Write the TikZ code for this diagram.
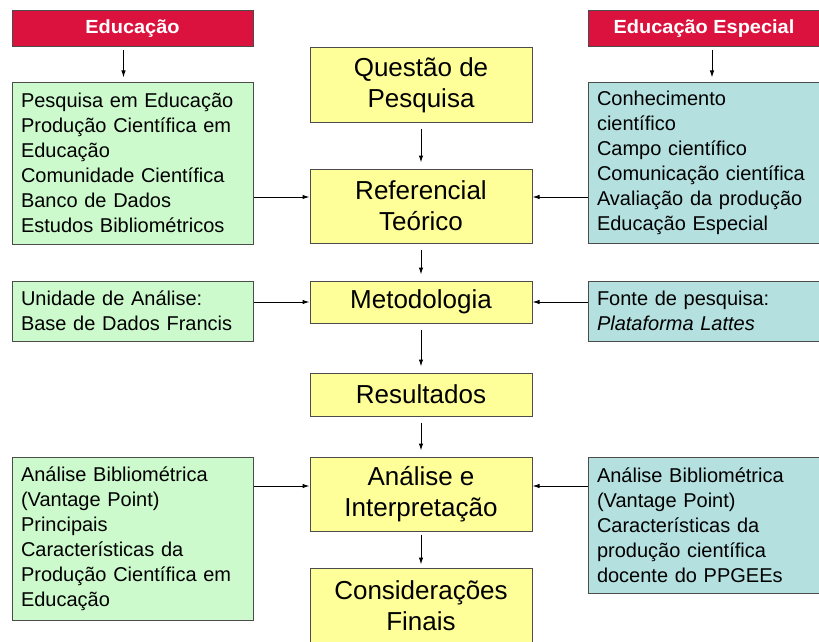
\documentclass[tikz,border=0pt]{standalone}
\usepackage{fontspec}
\setmainfont{Liberation Sans}
\newfontfamily\headfont{Liberation Sans}[FakeStretch=1.05]
\usepackage{tikz}
\usetikzlibrary{arrows.meta,positioning}

\definecolor{headred}{RGB}{220,18,62}
\definecolor{edugreen}{RGB}{204,250,204}
\definecolor{espblue}{RGB}{180,224,224}
\definecolor{coreyellow}{RGB}{255,255,153}

\begin{document}
\begin{tikzpicture}[
    x=1pt, y=-1pt,
    >={Latex[length=7pt,width=4.5pt]},
    line width=1pt,
    head/.style={draw=black!70, fill=headred, text=white, minimum width=#1, minimum height=36pt, inner sep=0pt, font=\headfont\bfseries\fontsize{19pt}{22pt}\selectfont},
    core/.style={draw=black!70, fill=coreyellow, minimum width=222pt, minimum height=#1, inner sep=0pt, align=center, font=\fontsize{26pt}{31pt}\selectfont},
    edu/.style={draw=black!70, fill=edugreen, minimum height=#1, inner xsep=9pt, inner ysep=0pt, text width=223pt, align=left, font=\fontsize{20pt}{25pt}\selectfont},
    esp/.style={draw=black!70, fill=espblue, minimum height=#1, inner xsep=9pt, inner ysep=0pt, text width=214pt, align=left, font=\fontsize{20pt}{25pt}\selectfont},
    flow/.style={->, shorten <=6pt, shorten >=6pt}
]
\useasboundingbox (0,0) rectangle (819,642);

% top row
\node[head=241pt] (educ) at (132.5,29) {Educação};
\node[head=232pt] (educesp) at (704,29) {Educação Especial};

\node[core=74pt] (questao) at (421,85) {Questão de\\Pesquisa};

% side boxes
\node[edu=162pt] (educbox) at (132.5,163) {Pesquisa em Educação\\Produção Científica em\\Educação\\Comunidade Científica\\Banco de Dados\\Estudos Bibliométricos};
\node[esp=161pt] (espbox) at (704,162.5) {Conhecimento\\científico\\Campo científico\\Comunicação científica\\Avaliação da produção\\Educação Especial};

\node[edu=60pt] (unid) at (132.5,311) {Unidade de Análise:\\Base de Dados Francis};
\node[esp=60pt] (fonte) at (704,311) {Fonte de pesquisa:\\\textit{Plataforma Lattes}};

\node[edu=163pt] (bibedu) at (132.5,538.5) {Análise Bibliométrica\\(Vantage Point)\\Principais\\Características da\\Produção Científica em\\Educação};
\node[esp=136pt] (bibesp) at (704,525) {Análise Bibliométrica\\(Vantage Point)\\Características da\\produção científica\\docente do PPGEEs};

% centre column
\node[core=74pt] (ref) at (421,206) {Referencial\\Teórico};
\node[core=42pt] (metod) at (421,302) {Metodologia};
\node[core=43pt] (result) at (421,394.5) {Resultados};
\node[core=74pt] (analise) at (421,494) {Análise e\\Interpretação};
\node[core=76pt] (consid) at (421,606) {Considerações\\Finais};

% arrows
\draw[->, shorten <=3pt, shorten >=4pt] ([xshift=-9pt]educ.south) -- ([xshift=-9pt]educbox.north);
\draw[->, shorten <=3pt, shorten >=4pt] ([xshift=8pt]educesp.south) -- ([xshift=8pt]espbox.north);

\draw[flow] (questao) -- (ref);
\draw[flow] (ref) -- (metod);
\draw[flow] (metod) -- (result);
\draw[flow] (result) -- (analise);
\draw[flow, shorten <=3pt, shorten >=3pt] (analise) -- (consid);

\coordinate (refL) at ([yshift=9pt]ref.west);
\coordinate (refR) at ([yshift=9pt]ref.east);
\draw[->] (educbox.east |- refL) -- (refL);
\draw[->] (espbox.west |- refR) -- (refR);

\draw[->] (unid.east |- metod.west) -- (metod.west);
\draw[->] (fonte.west |- metod.east) -- (metod.east);

\coordinate (anL) at ([yshift=8pt]analise.west);
\coordinate (anR) at ([yshift=8pt]analise.east);
\draw[->] (bibedu.east |- anL) -- (anL);
\draw[->] (bibesp.west |- anR) -- (anR);
\end{tikzpicture}
\end{document}
